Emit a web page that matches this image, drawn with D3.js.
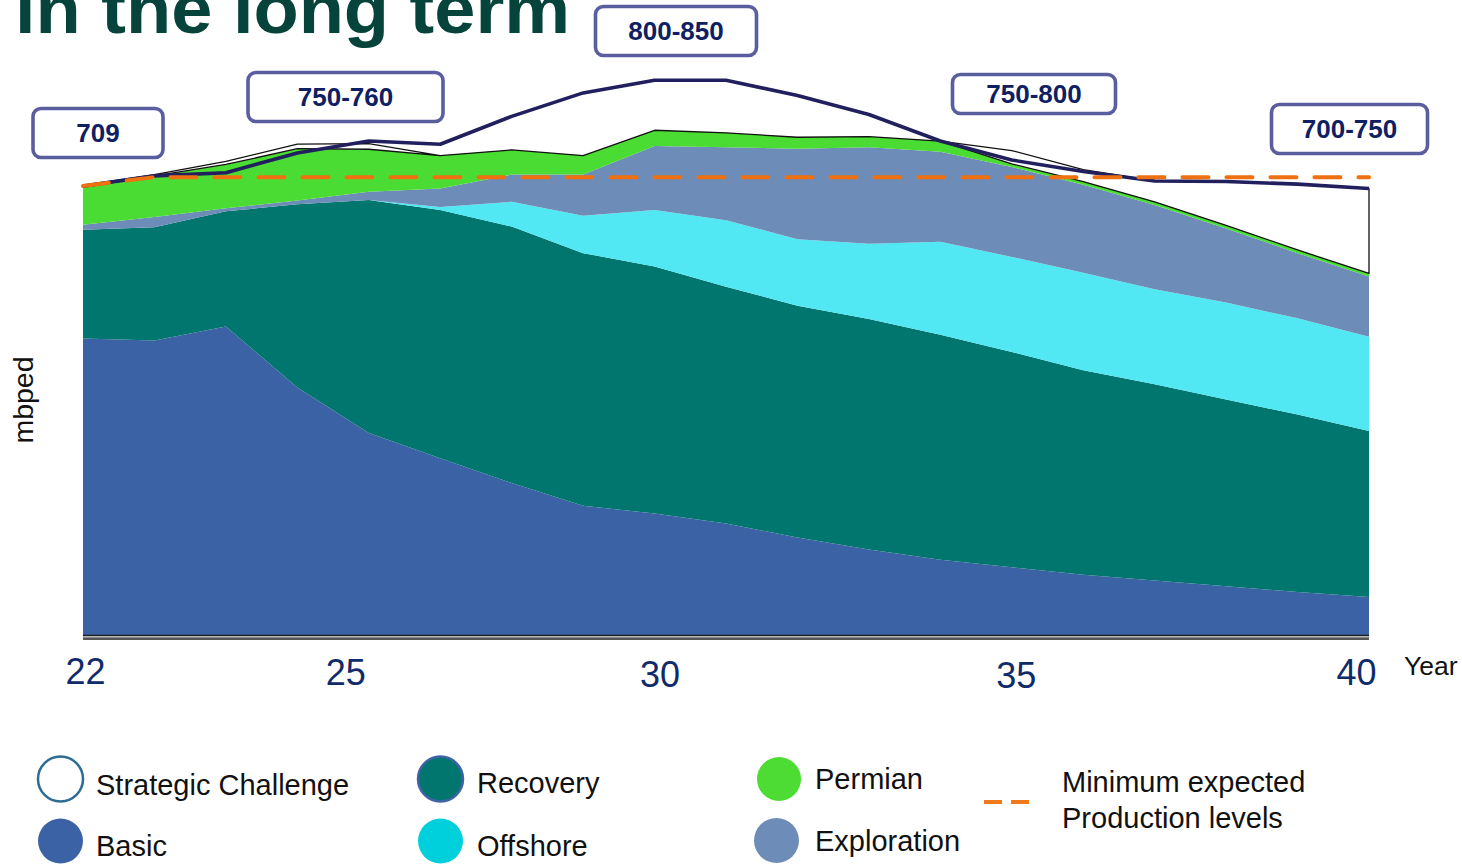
<!DOCTYPE html>
<html>
<head>
<meta charset="utf-8">
<script src="https://cdn.jsdelivr.net/npm/d3@7"></script>
<style>
  html, body { margin: 0; padding: 0; background: #ffffff; }
  svg { display: block; font-family: "Liberation Sans", Arial, Helvetica, sans-serif; }
</style>
</head>
<body>
<svg id="chart" width="1462" height="865"></svg>
<script>
// ---- data (mbped) ----
const years = [2022, 2023, 2024, 2025, 2026, 2027, 2028, 2029, 2030, 2031,
               2032, 2033, 2034, 2035, 2036, 2037, 2038, 2039, 2040];
const basic       = [468, 465, 487, 391, 319, 279, 240, 204, 192, 176, 154, 135, 119, 107, 95, 86, 77, 68, 60];
const recovery    = [172, 179, 182, 289, 368, 392, 405, 399, 390, 374, 366, 364, 355, 340, 323, 310, 295, 280, 262];
const offshore    = [0, 0, 0, 0, 0, 5, 39, 59, 89, 105, 105, 119, 147, 150, 154, 150, 153, 152, 149];
const exploration = [8, 16, 5, 6, 13, 29, 43, 65, 101, 115, 143, 152, 142, 142, 139, 133, 117, 103, 95];
const permian     = [59, 65, 69, 82, 67, 52, 39, 30, 25, 23, 18, 17, 17, 5, 5, 5, 5, 5, 5];
const strategic   = [3, 2, 5, 7, 9, 0, 0, 0, 0, 0, 0, 0, 0, 21, 19, 33, 69, 104, 134];
const targetLine  = [709, 725, 730, 761, 780, 775, 819, 856, 876, 876, 852, 822, 780, 750, 732, 717, 716, 712, 705];
const minimumLevel = [709, 723, 723, 723, 723, 723, 723, 723, 723, 723, 723, 723, 723, 723, 723, 723, 723, 723, 723];

const seriesKeys = ["Basic", "Recovery", "Offshore", "Exploration", "Permian", "Strategic Challenge"];
const tickYears  = [2022, 2025, 2030, 2035, 2040];
const tickLabels = ["22", "25", "30", "35", "40"];
const rangeLabels = ["709", "750-760", "800-850", "750-800", "700-750"];

// ---- styling ----
const areaColors = {
  "Basic": "#3c62a6",
  "Recovery": "#01766e",
  "Offshore": "#52e8f3",
  "Exploration": "#6d8cb7",
  "Permian": "#4adc33",
  "Strategic Challenge": "#ffffff"
};

const svg = d3.select("#chart");

// table built from the series arrays
const rows = years.map((yr, i) => ({
  year: yr,
  "Basic": basic[i],
  "Recovery": recovery[i],
  "Offshore": offshore[i],
  "Exploration": exploration[i],
  "Permian": permian[i],
  "Strategic Challenge": strategic[i]
}));

const x = d3.scaleLinear().domain([2022, 2040]).range([83, 1369]);
const y = d3.scaleLinear().domain([0, 709]).range([635, 186]);

const stacked = d3.stack().keys(seriesKeys)(rows);

const area = d3.area()
  .x(d => x(d.data.year))
  .y0(d => y(d[0]))
  .y1(d => y(d[1]));

// slide heading, running off the top of the page
svg.append("text")
  .attr("x", 15).attr("y", 33)
  .attr("font-size", 70).attr("font-weight", "bold")
  .attr("fill", "#06433b")
  .attr("textLength", 555).attr("lengthAdjust", "spacingAndGlyphs")
  .text("in the long term");

// stacked areas
const layers = svg.append("g");
layers.selectAll("path")
  .data(stacked)
  .join("path")
  .attr("d", area)
  .attr("fill", d => areaColors[d.key])
  .attr("stroke", d => d.key === "Strategic Challenge" ? "#111" : "none")
  .attr("stroke-width", d => d.key === "Strategic Challenge" ? 1.3 : 0)
  .attr("stroke-linejoin", "round");

// base line
const baseG = svg.append("g");
[[635.5, "#1e1e1e", 1.6], [637.4, "#8a8a8a", 1.4], [639, "#1e1e1e", 1.6]].forEach(([yy, c, w]) => {
  baseG.append("line")
    .attr("x1", x(2022)).attr("x2", x(2040))
    .attr("y1", yy).attr("y2", yy)
    .attr("stroke", c).attr("stroke-width", w);
});

// target production line
const line = d3.line().x((d, i) => x(years[i])).y(d => y(d));
svg.append("path")
  .datum(targetLine)
  .attr("d", line)
  .attr("fill", "none")
  .attr("stroke", "#221f5e")
  .attr("stroke-width", 3.6)
  .attr("stroke-linejoin", "round");

// minimum expected production
svg.append("path")
  .datum(minimumLevel)
  .attr("d", line)
  .attr("fill", "none")
  .attr("stroke", "#ef7010")
  .attr("stroke-width", 4)
  .attr("stroke-linecap", "round")
  .attr("stroke-dasharray", "26,18");

// range call-outs
const boxLayout = [
  { cx: 98,   cy: 133, w: 130, h: 49 },
  { cx: 345.5, cy: 97, w: 195, h: 49 },
  { cx: 676,  cy: 31,  w: 161, h: 49 },
  { cx: 1034, cy: 94,  w: 163, h: 39 },
  { cx: 1349.5, cy: 129, w: 156, h: 49 }
];
const boxes = svg.append("g").selectAll("g")
  .data(rangeLabels)
  .join("g")
  .attr("transform", (d, i) => `translate(${boxLayout[i].cx},${boxLayout[i].cy})`);
boxes.append("rect")
  .attr("x", (d, i) => -boxLayout[i].w / 2)
  .attr("y", (d, i) => -boxLayout[i].h / 2)
  .attr("width", (d, i) => boxLayout[i].w)
  .attr("height", (d, i) => boxLayout[i].h)
  .attr("rx", 8).attr("ry", 8)
  .attr("fill", "#ffffff")
  .attr("stroke", "#5a5e9e")
  .attr("stroke-width", 3.6);
boxes.append("text")
  .attr("text-anchor", "middle")
  .attr("dy", "0.36em")
  .attr("font-size", 26).attr("font-weight", "bold")
  .attr("fill", "#0f2062")
  .text(d => d);

// x axis labels
const tickShift = { "22": [2, 49], "25": [48, 50], "30": [5, 52], "35": [4, 53], "40": [-13, 50] };
const axis = d3.axisBottom(x)
  .tickValues(tickYears)
  .tickFormat((d, i) => tickLabels[i])
  .tickSize(0);
const axisG = svg.append("g")
  .attr("transform", "translate(0,635)")
  .call(axis);
axisG.select(".domain").remove();
axisG.selectAll("text")
  .attr("font-family", "'Liberation Sans', Arial, sans-serif")
  .attr("font-size", 36)
  .attr("fill", "#102a6a")
  .attr("dy", null)
  .attr("dx", function () { return tickShift[this.textContent][0]; })
  .attr("y", function () { return tickShift[this.textContent][1]; });

svg.append("text")
  .attr("x", 1404).attr("y", 675)
  .attr("font-size", 26.5).attr("fill", "#111")
  .text("Year");

svg.append("text")
  .attr("transform", "translate(33,400) rotate(-90)")
  .attr("text-anchor", "middle")
  .attr("font-size", 28.5).attr("fill", "#111")
  .text("mbped");

// legend
const legendItems = [
  { name: "Strategic Challenge", cx: 60.5, cy: 779, r: 22.5, fill: "#ffffff", stroke: "#2b6d93", tx: 96,  ty: 795 },
  { name: "Basic",               cx: 60.5, cy: 841, r: 22.5, fill: "#3c62a6", stroke: "none",    tx: 96,  ty: 856 },
  { name: "Recovery",            cx: 440.5, cy: 779, r: 22.5, fill: "#01766e", stroke: "#4262a8", tx: 477, ty: 793 },
  { name: "Offshore",            cx: 440.5, cy: 841, r: 22.5, fill: "#00cfdc", stroke: "none",    tx: 477, ty: 856 },
  { name: "Permian",             cx: 779,  cy: 779, r: 22,   fill: "#4cdc34", stroke: "none",    tx: 815, ty: 789 },
  { name: "Exploration",         cx: 776.5, cy: 840.5, r: 22.5, fill: "#6d8cb7", stroke: "none", tx: 815, ty: 851 }
];
const leg = svg.append("g");
legendItems.forEach(it => {
  leg.append("circle")
    .attr("cx", it.cx).attr("cy", it.cy).attr("r", it.r)
    .attr("fill", it.fill)
    .attr("stroke", it.stroke)
    .attr("stroke-width", it.stroke === "none" ? 0 : 2.5);
  leg.append("text")
    .attr("x", it.tx).attr("y", it.ty)
    .attr("font-size", 29).attr("fill", "#111")
    .text(it.name);
});
leg.append("line")
  .attr("x1", 984).attr("x2", 1029)
  .attr("y1", 802).attr("y2", 802)
  .attr("stroke", "#f07a1a").attr("stroke-width", 4)
  .attr("stroke-dasharray", "18,9");
leg.append("text").attr("x", 1062).attr("y", 792)
  .attr("font-size", 29).attr("fill", "#111").text("Minimum expected");
leg.append("text").attr("x", 1062).attr("y", 828)
  .attr("font-size", 29).attr("fill", "#111").text("Production levels");
</script>
</body>
</html>
